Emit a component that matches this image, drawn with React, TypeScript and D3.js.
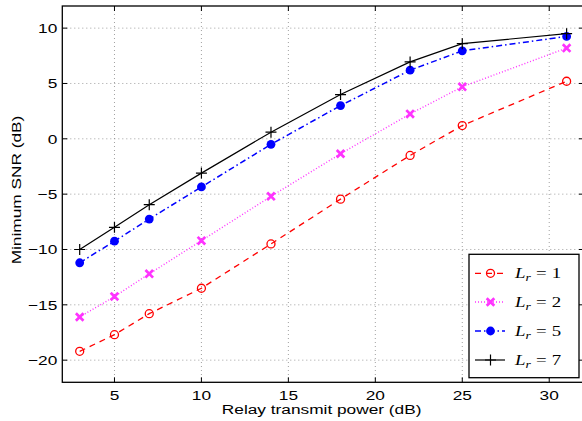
import React from "react";
import { scaleLinear, line } from "d3";

const xValues = [3, 5, 7, 10, 14, 18, 22, 25, 31];
const lr1 = [-19.2, -17.7, -15.8, -13.5, -9.5, -5.45, -1.5, 1.2, 5.2];
const lr2 = [-16.1, -14.25, -12.2, -9.2, -5.2, -1.35, 2.25, 4.7, 8.2];
const lr5 = [-11.2, -9.25, -7.25, -4.35, -0.5, 3.0, 6.2, 7.95, 9.25];
const lr7 = [-10, -8, -5.95, -3.1, 0.6, 4.0, 6.95, 8.6, 9.5];
const xTicks = [5, 10, 15, 20, 25, 30];
const yTicks = [-20, -15, -10, -5, 0, 5, 10];
const legendLabels = ["1", "2", "5", "7"];

const W = 582;
const H = 421;
const left = 62.3;
const top = 6;
const bottom = 382.3;

const x = scaleLinear().domain([2, 32]).range([left, left + 30 * 17.39]);
const y = scaleLinear().domain([-22, 12]).range([bottom, top]);

const SX = 1.3; // text in the picture is drawn wide

const series = [
  { values: lr1, color: "#ff0000", dash: "6,5", marker: "o", width: 1.3 },
  { values: lr2, color: "#ff33ff", dash: "1,2", marker: "x", width: 1.4 },
  { values: lr5, color: "#0000ff", dash: "6,3,1.5,3", marker: "dot", width: 1.5 },
  { values: lr7, color: "#000000", dash: "", marker: "+", width: 1.2 },
];

function Marker({ kind, cx, cy, color }: { kind: string; cx: number; cy: number; color: string }) {
  if (kind === "o")
    return <circle cx={cx} cy={cy} r={4} fill="none" stroke={color} strokeWidth={1.3} />;
  if (kind === "dot") return <circle cx={cx} cy={cy} r={4.4} fill={color} />;
  if (kind === "x") {
    const s = 3.8;
    return (
      <path
        d={`M${cx - s},${cy - s}L${cx + s},${cy + s}M${cx - s},${cy + s}L${cx + s},${cy - s}`}
        stroke={color}
        strokeWidth={2.7}
      />
    );
  }
  const s = 5.5;
  return (
    <path
      d={`M${cx - s},${cy}L${cx + s},${cy}M${cx},${cy - s}L${cx},${cy + s}`}
      stroke={color}
      strokeWidth={1.2}
    />
  );
}

export default function App() {
  const [x0, x1] = x.range();
  const path = line<number>()
    .x((_, i) => x(xValues[i]))
    .y((d) => y(d));

  const tickFont = { fontFamily: "'Liberation Sans', Arial, sans-serif", fontSize: 13.3 };
  const legX = 469;
  const legY = 254.3;
  const legW = 110;
  const legH = 123.4;
  const rowY = [273.3, 302, 331, 360];

  return (
    <svg
      width={W}
      height={H}
      style={{ position: "absolute", left: 0, top: 0, background: "#fff" }}
    >
      <rect x={0} y={0} width={W} height={H} fill="#fff" />
      {/* grid */}
      {xTicks.map((t) => (
        <line key={"gx" + t} x1={x(t)} x2={x(t)} y1={top} y2={bottom} stroke="#888" strokeWidth={0.8} strokeDasharray="1,3" />
      ))}
      {yTicks.map((t) => (
        <line key={"gy" + t} x1={x0} x2={x1} y1={y(t)} y2={y(t)} stroke="#888" strokeWidth={0.8} strokeDasharray="1,3" />
      ))}

      {/* series */}
      {series.map((s, i) => (
        <path key={"l" + i} d={path(s.values) || ""} fill="none" stroke={s.color} strokeWidth={s.width} strokeDasharray={s.dash || undefined} />
      ))}
      {series.map((s, i) =>
        s.values.map((v, j) => <Marker key={`m${i}-${j}`} kind={s.marker} cx={x(xValues[j])} cy={y(v)} color={s.color} />)
      )}

      {/* frame and ticks */}
      <rect x={x0} y={top} width={x1 - x0} height={bottom - top} fill="none" stroke="#000" strokeWidth={1.3} />
      {xTicks.map((t) => (
        <g key={"tx" + t}>
          <line x1={x(t)} x2={x(t)} y1={bottom} y2={bottom - 5} stroke="#000" />
          <line x1={x(t)} x2={x(t)} y1={top} y2={top + 5} stroke="#000" />
          <text transform={`translate(${x(t)},${400}) scale(${SX},1)`} textAnchor="middle" {...tickFont}>
            {t}
          </text>
        </g>
      ))}
      {yTicks.map((t) => (
        <g key={"ty" + t}>
          <line x1={x0} x2={x0 + 5} y1={y(t)} y2={y(t)} stroke="#000" />
          <line x1={x1} x2={x1 - 5} y1={y(t)} y2={y(t)} stroke="#000" />
          <text transform={`translate(${x0 - 5},${y(t) + 4.7}) scale(${SX},1)`} textAnchor="end" {...tickFont}>
            {t < 0 ? "\u2212" + Math.abs(t) : t}
          </text>
        </g>
      ))}

      {/* axis labels */}
      <text transform={`translate(${(x0 + 581) / 2},414) scale(${SX},1)`} textAnchor="middle" {...tickFont}>
        Relay transmit power (dB)
      </text>
      <text transform={`translate(20.5,190) rotate(-90) scale(${SX},1)`} textAnchor="middle" {...tickFont}>
        Minimum SNR (dB)
      </text>

      {/* legend */}
      <rect x={legX} y={legY} width={legW} height={legH} fill="#fff" stroke="#000" strokeWidth={1.3} />
      {series.map((s, i) => (
        <g key={"lg" + i}>
          <line x1={475} x2={505} y1={rowY[i]} y2={rowY[i]} stroke={s.color} strokeWidth={s.width} strokeDasharray={s.dash || undefined} />
          <Marker kind={s.marker} cx={490.5} cy={rowY[i]} color={s.color} />
          <text
            transform={`translate(515,${rowY[i] + 5}) scale(${SX},1)`}
            fontFamily="'Liberation Serif', 'Times New Roman', serif"
            fontSize={14.5}
          >
            <tspan fontStyle="italic">L</tspan>
            <tspan fontStyle="italic" fontSize={10.5} dy={3}>r</tspan>
            <tspan dy={-3} dx={4}>=</tspan>
            <tspan dx={4}>{legendLabels[i]}</tspan>
          </text>
        </g>
      ))}
    </svg>
  );
}
